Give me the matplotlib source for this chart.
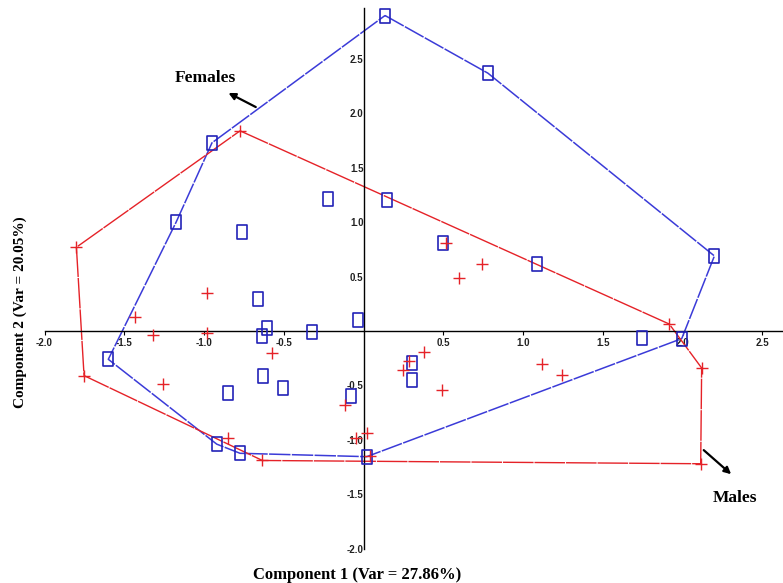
import matplotlib
matplotlib.use("Agg")
import matplotlib.pyplot as plt
from matplotlib.path import Path
import numpy as np

# Females (blue squares); first 10 points are the hull vertices in order
fem_x = [0.135, 0.78, 2.20, 1.995, 0.02, -0.774, -0.92, -1.60, -1.175, -0.95,
         -0.225, 0.145, -0.764, -0.663, -0.036, -0.607, -0.638, -0.325, -0.632,
         -0.503, -0.848, -0.078, 0.497, 1.09, 1.744, 0.306, 0.306]
fem_y = [2.90, 2.37, 0.69, -0.07, -1.155, -1.124, -1.04, -0.26, 1.00, 1.73,
         1.21, 1.20, 0.91, 0.29, 0.10, 0.03, -0.046, -0.01, -0.41,
         -0.52, -0.57, -0.60, 0.81, 0.62, -0.06, -0.29, -0.45]
fem_hull_n = 10

# Males (red plus); first 7 points are the hull vertices in order
mal_x = [-0.774, 1.917, 2.12, 2.114, -0.634, -1.752, -1.80,
         -1.43, -1.32, -0.983, -0.983, -1.255, -0.848, -0.116, -0.047, 0.02,
         0.04, -0.575, 0.245, 0.38, 0.287, 0.494, 1.117, 1.246, 0.741, 0.60, 0.52]
mal_y = [1.84, 0.064, -0.34, -1.22, -1.19, -0.41, 0.77,
         0.13, -0.04, -0.016, 0.35, -0.49, -0.98, -0.68, -0.986, -0.935,
         -1.15, -0.205, -0.36, -0.196, -0.28, -0.54, -0.30, -0.40, 0.62, 0.49, 0.81]
mal_hull_n = 7

tick_vals = [-2.0, -1.5, -1.0, -0.5, 0.5, 1.0, 1.5, 2.0, 2.5]
tick_labels = ["-2.0", "-1.5", "-1.0", "-0.5", "0.5", "1.0", "1.5", "2.0", "2.5"]

xlabel = "Component 1 (Var = 27.86%)"
ylabel = "Component 2 (Var = 20.05%)"

BLUE_M = "#2323b8"
BLUE_L = "#3b3bd8"
RED = "#e52228"

fig = plt.figure(figsize=(7.83, 5.83), dpi=100)
ax = fig.add_axes([44.5 / 783, 1 - 548.6 / 583, 1 - 44.5 / 783, (548.6 - 7.9) / 583])
ax.set_xlim(-2.0, 2.63)
ax.set_ylim(-2.0, 2.97)

# hulls
hx = fem_x[:fem_hull_n] + [fem_x[0]]
hy = fem_y[:fem_hull_n] + [fem_y[0]]
ax.plot(hx, hy, color=BLUE_L, lw=1.1, dashes=(14, 0.9), zorder=2)
rx = mal_x[:mal_hull_n] + [mal_x[0]]
ry = mal_y[:mal_hull_n] + [mal_y[0]]
ax.plot(rx, ry, color=RED, lw=1.0, dashes=(22, 0.7), zorder=2)

# rectangle marker (taller than wide)
rect = Path([(-0.35, -0.5), (0.35, -0.5), (0.35, 0.5), (-0.35, 0.5), (-0.35, -0.5)],
            [Path.MOVETO, Path.LINETO, Path.LINETO, Path.LINETO, Path.CLOSEPOLY])
ax.plot(fem_x, fem_y, linestyle="none", marker=rect, markersize=9.5,
        markerfacecolor="none", markeredgecolor=BLUE_M, markeredgewidth=1.2, zorder=3)
ax.plot(mal_x, mal_y, linestyle="none", marker="+", markersize=8.5,
        markeredgecolor=RED, markeredgewidth=1.0, zorder=4)

# spines through origin
for s in ["top", "right"]:
    ax.spines[s].set_visible(False)
ax.spines["left"].set_position(("data", 0))
ax.spines["bottom"].set_position(("data", 0))
ax.spines["left"].set_linewidth(1.0)
ax.spines["bottom"].set_linewidth(1.0)
ax.spines["bottom"].set_bounds(-2.0, 2.63)

ax.set_xticks(tick_vals)
ax.set_xticklabels(tick_labels)
ax.set_yticks(tick_vals)
ax.set_yticklabels(tick_labels)
ax.tick_params(axis="x", direction="out", length=3, width=0.8, pad=2)
ax.tick_params(axis="y", direction="out", length=0, width=0.8, pad=0)
for lab in ax.get_xticklabels() + ax.get_yticklabels():
    lab.set_fontfamily("Liberation Sans")
    lab.set_fontweight("bold")
    lab.set_fontsize(7)
    lab.set_color("#222222")

serif = "Liberation Serif"
fig.text(356.7 / 783, 1 - 575 / 583, xlabel, ha="center", va="center",
         fontfamily=serif, fontweight="bold", fontsize=12)
fig.text(20 / 783, 1 - 312 / 583, ylabel, ha="center", va="center", rotation=90,
         fontfamily=serif, fontweight="bold", fontsize=11)

# annotations
ax.annotate("", xy=(-0.862, 2.20), xytext=(-0.66, 2.047),
            arrowprops=dict(arrowstyle="-|>", color="black", lw=1.6, mutation_scale=10))
ax.text(-0.994, 2.33, "Females", ha="center", va="center", fontfamily=serif,
        fontweight="bold", fontsize=12.5)
ax.annotate("", xy=(2.318, -1.333), xytext=(2.12, -1.078),
            arrowprops=dict(arrowstyle="-|>", color="black", lw=1.6, mutation_scale=10))
ax.text(2.33, -1.535, "Males", ha="center", va="center", fontfamily=serif,
        fontweight="bold", fontsize=12.5)

fig.savefig("out.png", dpi=100)
